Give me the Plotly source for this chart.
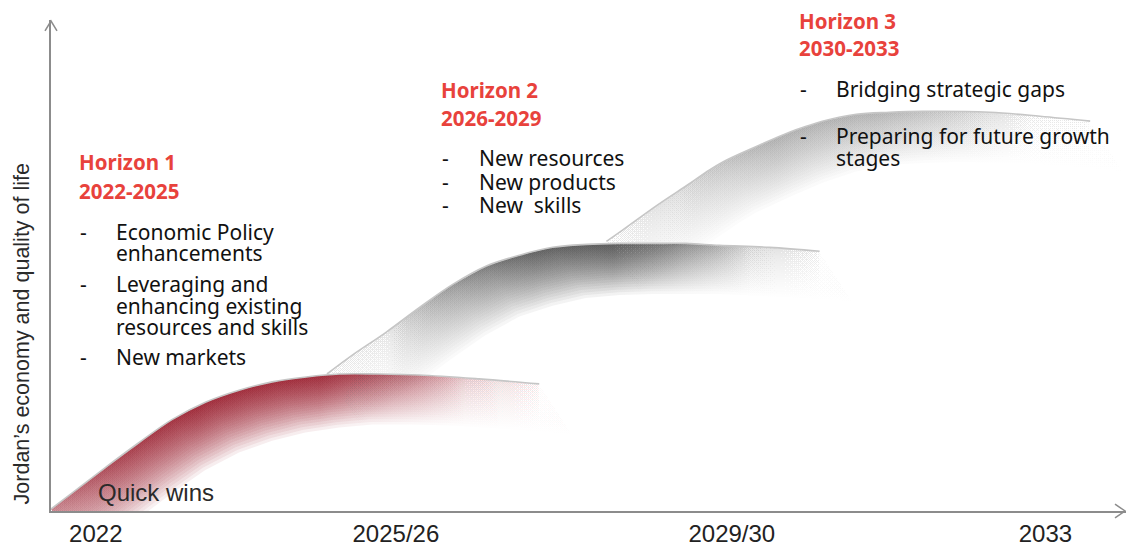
import plotly.graph_objects as go

# ---------------- data ----------------
# x: time (years), y: index of Jordan's economy and quality of life (0-100)
h1_x = [2022.00, 2022.23, 2022.61, 2022.98, 2023.35, 2023.73, 2024.10, 2024.47,
        2024.85, 2025.22, 2025.66, 2026.11, 2026.78, 2027.45]
h1_y = [0.4, 3.6, 8.9, 13.9, 18.6, 22.2, 24.6, 26.3, 27.3, 27.9, 27.9, 27.7, 26.9, 25.9]

h2_x = [2025.08, 2025.36, 2025.74, 2026.11, 2026.48, 2026.86, 2027.23, 2027.60,
        2027.98, 2028.35, 2028.72, 2029.09, 2029.46, 2030.02, 2030.58]
h2_y = [27.9, 31.7, 36.4, 41.4, 46.1, 49.9, 52.1, 53.7, 54.3, 54.5, 54.5, 54.5, 54.1, 53.7, 52.9]

h3_x = [2028.20, 2028.38, 2028.76, 2029.13, 2029.32, 2029.50, 2029.88, 2030.25,
        2030.44, 2030.61, 2030.99, 2031.36, 2031.73, 2032.48, 2033.04, 2033.60]
h3_y = [54.9, 57.2, 62.2, 66.7, 69.1, 71.1, 74.3, 77.2, 78.4, 79.4, 80.8, 81.2, 81.4, 81.2, 80.4, 79.4]

tick_vals = [2022.5, 2025.85, 2029.6, 2033.1]
tick_text = ["2022", "2025/26", "2029/30", "2033"]

horizon_titles = ["Horizon 1", "Horizon 2", "Horizon 3"]
horizon_periods = ["2022-2025", "2026-2029", "2030-2033"]
h1_bullets = [["Economic Policy", "enhancements"],
              ["Leveraging and", "enhancing existing", "resources and skills"],
              ["New markets"]]
h2_bullets = [["New resources"], ["New products"], ["New\u00a0 skills"]]
h3_bullets = [["Bridging strategic gaps"], ["Preparing for future growth", "stages"]]
y_title = "Jordan\u2019s economy and quality of life"
quick_wins = "Quick wins"

# ---------------- geometry / styling ----------------
W, H = 1126, 547
ML, MR, MT, MB = 51, 0, 20, 32
PW, PH = W - ML - MR, H - MT - MB
X0, X1 = 2022, 2034
Y0, Y1 = 0, 100
PX_PER_X = PW / (X1 - X0)
PX_PER_Y = PH / (Y1 - Y0)


def px2paper(px, py):
    return (px - ML) / PW, (H - MB - py) / PH


RED = "#e8423c"
AXIS = "#8c8c8c"

fig = go.Figure()


def add_shade(xs, ys, rgb, stops, n_layers=30, a_max=0.075, depth=60, power=1.6):
    xmin, xmax = min(xs), max(xs)
    for k in range(n_layers):
        t = depth * ((k + 1) / n_layers) ** power
        dx = 0.55 * t / PX_PER_X
        dy = -0.85 * t / PX_PER_Y
        sx = [v + dx for v in xs]
        sy = [v + dy for v in ys]
        px_ = list(xs) + sx[::-1] + [xs[0]]
        py_ = list(ys) + sy[::-1] + [ys[0]]
        cs = [[s, "rgba(%d,%d,%d,%.4f)" % (rgb[0], rgb[1], rgb[2], max(a * a_max, 0.002))]
              for s, a in stops]
        fig.add_trace(go.Scatter(
            x=px_, y=py_, mode="lines", fill="toself",
            line=dict(width=0, color="rgba(0,0,0,0)"),
            fillcolor="rgba(%d,%d,%d,%.3f)" % (rgb[0], rgb[1], rgb[2], a_max * 0.5),
            fillgradient=dict(type="horizontal", colorscale=cs, start=xmin, stop=xmax),
            hoverinfo="skip", showlegend=False))


add_shade(h1_x, h1_y, (150, 24, 40),
          [(0, 0.35), (0.15, 0.75), (0.3, 1.0), (0.55, 1.0), (0.7, 0.5), (0.85, 0.12), (1, 0.0)])
add_shade(h2_x, h2_y, (70, 70, 70),
          [(0, 0.0), (0.12, 0.06), (0.28, 0.45), (0.42, 0.85), (0.58, 1.0), (0.72, 0.5), (0.86, 0.12), (1, 0.0)],
          a_max=0.07)
add_shade(h3_x, h3_y, (150, 150, 150),
          [(0, 0.0), (0.15, 0.25), (0.35, 0.75), (0.55, 0.7), (0.75, 0.3), (0.88, 0.06), (1, 0.0)],
          a_max=0.06)

for xs, ys in [(h1_x, h1_y), (h2_x, h2_y), (h3_x, h3_y)]:
    fig.add_trace(go.Scatter(x=xs, y=ys, mode="lines",
                             line=dict(color="#c6c6c6", width=1.6, shape="spline", smoothing=1),
                             hoverinfo="skip", showlegend=False))

# ---------------- text ----------------
ann = []
TITLE_FONT = dict(family="Noto Sans, Open Sans, sans-serif", size=20.5, color=RED)
BODY_FONT = dict(family="Noto Sans, Open Sans, sans-serif", size=21, color="#111111")


def text_at(px, py, s, font, bold=False):
    x, y = px2paper(px, py)
    ann.append(dict(x=x, y=y, xref="paper", yref="paper", text=("<b>%s</b>" % s) if bold else s,
                    showarrow=False, xanchor="left", yanchor="middle", font=font, borderpad=0))


blocks = [
    (horizon_titles[0], horizon_periods[0], h1_bullets, 78, 163, 192, 115,
     [[234, 255], [286, 308, 330], [360]]),
    (horizon_titles[1], horizon_periods[1], h2_bullets, 440, 91, 119, 478,
     [[159], [183], [207]]),
    (horizon_titles[2], horizon_periods[2], h3_bullets, 798, 21, 48, 835,
     [[90], [137, 159]]),
]
for title, period, bullets, tx, ty, py2, bx, bys in blocks:
    text_at(tx, ty, title, TITLE_FONT, bold=True)
    text_at(tx, py2, period, TITLE_FONT, bold=True)
    for lines, ys in zip(bullets, bys):
        text_at(tx + 1, ys[0], "-", BODY_FONT)
        for line, yy in zip(lines, ys):
            text_at(bx, yy, line, BODY_FONT)

text_at(97, 496, quick_wins, dict(family="Liberation Sans, Arial, sans-serif", size=24, color="#2a2a2a"))

yt_x, yt_y = px2paper(22, 337)
ann.append(dict(x=yt_x, y=yt_y, xref="paper", yref="paper", text=y_title, textangle=-90,
                showarrow=False, xanchor="center", yanchor="middle",
                font=dict(family="Liberation Sans, Arial, sans-serif", size=21.5, color="#2a2a2a")))

# ---------------- axis arrow heads ----------------
def path_px(points):
    pts = [px2paper(a, b) for a, b in points]
    return "M %f %f L %f %f L %f %f" % (pts[0][0], pts[0][1], pts[1][0], pts[1][1], pts[2][0], pts[2][1])


shapes = [
    dict(type="path", xref="paper", yref="paper", path=path_px([(45, 31), (51, 21), (57, 31)]),
         line=dict(color=AXIS, width=1.5)),
    dict(type="path", xref="paper", yref="paper", path=path_px([(1115, 508), (1125, 515), (1115, 522)]),
         line=dict(color=AXIS, width=1.5)),
]

fig.update_layout(
    width=W, height=H, autosize=False,
    margin=dict(l=ML, r=MR, t=MT, b=MB),
    paper_bgcolor="white", plot_bgcolor="white",
    annotations=ann, shapes=shapes,
    xaxis=dict(range=[X0, X1], showgrid=False, zeroline=False, showline=True,
               linecolor=AXIS, linewidth=1.8, tickmode="array", tickvals=tick_vals,
               ticktext=tick_text, ticks="outside", ticklen=0, tickcolor="rgba(0,0,0,0)",
               tickfont=dict(family="Liberation Sans, Arial, sans-serif", size=24, color="#222222")),
    yaxis=dict(range=[Y0, Y1], showgrid=False, zeroline=False, showline=True,
               linecolor=AXIS, linewidth=1.8, showticklabels=False, ticks=""),
)

fig.write_html("out.html", config={"displayModeBar": False},
               post_script="document.body.style.margin='0';document.body.style.overflow='hidden';")
